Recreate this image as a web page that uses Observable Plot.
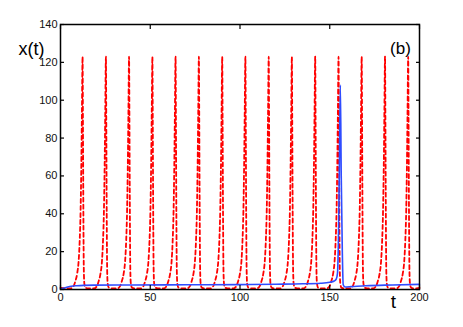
<!DOCTYPE html>
<html>
<head>
<meta charset="utf-8">
<script src="https://cdn.jsdelivr.net/npm/d3@7"></script>
<script src="https://cdn.jsdelivr.net/npm/@observablehq/plot@0.6"></script>
<style>
  html, body { margin: 0; padding: 0; background: #fff; }
  #chart { width: 463px; height: 327px; }
</style>
</head>
<body>
<div id="chart"></div>
<script>
// ---- data ----
const xTicks = [0, 50, 100, 150, 200];
const yTicks = [0, 20, 40, 60, 80, 100, 120, 140];

// red dashed series: spike peak times and one spike profile (offset from peak, value)
const redSpikeTimes = [12.3, 25.3, 38.2, 51.2, 64.1, 77.1, 90.1, 103.0, 116.0, 128.9, 141.9, 154.9, 167.8, 180.8, 193.7];
const redProfileDt = [-6.5, -5, -4, -3, -2.2, -1.6, -1.1, -0.7, -0.35, 0, 0.2, 0.45, 0.7, 1.0, 1.6, 3, 4.5];
const redProfileX  = [0.6, 1.8, 4.5, 8.5, 15, 26, 42, 66, 95, 123, 90, 40, 10, 3, 1, 0.6, 0.6];
const redStart = [0, 0.9];
const redEnd = [200, 0.8];

// blue solid series
const blueT = [0, 2, 4, 6, 9, 13, 20, 40, 70, 100, 120, 135, 145, 150, 152.5, 153.6, 154.3, 154.8, 155.3, 155.9, 156.4, 157.0, 157.5, 158.5, 162, 170, 185, 200];
const blueX = [0.3, 0.8, 1.3, 1.7, 2.0, 2.2, 2.3, 2.4, 2.5, 2.6, 2.8, 3.0, 3.3, 3.8, 4.5, 5.5, 8.5, 25, 60, 108, 60, 20, 2.5, 1.3, 1.5, 2.0, 2.4, 2.7];

const yLabel = "x(t)";
const xLabel = "t";
const panelLabel = "(b)";

// ---- build tables ----
const red = [{t: redStart[0], x: redStart[1]}];
for (const s of redSpikeTimes) {
  redProfileDt.forEach((dt, i) => red.push({t: s + dt, x: redProfileX[i]}));
}
red.push({t: redEnd[0], x: redEnd[1]});
const blue = blueT.map((t, i) => ({t, x: blueX[i]}));

const font = "Liberation Sans, Arial, Helvetica, sans-serif";

const plot = Plot.plot({
  width: 463,
  height: 327,
  marginLeft: 60,
  marginRight: 44,
  marginTop: 24,
  marginBottom: 38,
  style: {fontFamily: font, fontSize: "11px", background: "#fff", color: "#000"},
  x: {domain: [0, 200], ticks: xTicks, label: null},
  y: {domain: [0, 140], ticks: yTicks, label: null},
  marks: [
    Plot.line(red, {x: "t", y: "x", stroke: "#ff0000", strokeWidth: 1.8, strokeDasharray: "4,3", curve: "monotone-x"}),
    Plot.line(blue, {x: "t", y: "x", stroke: "#2f4cff", strokeWidth: 1.6, curve: "monotone-x"}),
    Plot.frame({stroke: "#000", strokeWidth: 1.5}),
    Plot.axisX(xTicks, {anchor: "bottom", tickSize: -4, text: null, label: null, strokeWidth: 1.2}),
    Plot.axisX(xTicks, {anchor: "top", tickSize: -4, text: null, label: null, strokeWidth: 1.2}),
    Plot.axisY(yTicks, {anchor: "left", tickSize: -4, text: null, label: null, strokeWidth: 1.2}),
    Plot.axisY(yTicks, {anchor: "right", tickSize: -4, text: null, label: null, strokeWidth: 1.2}),
    Plot.axisX(xTicks, {anchor: "bottom", tickSize: 0, tickPadding: 4, label: null, fontSize: 11, fill: "#111"}),
    Plot.axisY(yTicks, {anchor: "left", tickSize: 0, tickPadding: 3, label: null, fontSize: 11, fill: "#111"}),
    Plot.text([yLabel], {frameAnchor: "top-left", dx: -29, dy: 18, fontSize: 18, textAnchor: "middle", fill: "#000"}),
    Plot.text([xLabel], {frameAnchor: "bottom-right", dx: -26, dy: 18, fontSize: 19, textAnchor: "middle", fill: "#000"}),
    Plot.text([panelLabel], {frameAnchor: "top-right", dx: -19, dy: 17, fontSize: 17, textAnchor: "middle", fill: "#000"})
  ]
});
document.getElementById("chart").appendChild(plot);
</script>
</body>
</html>
